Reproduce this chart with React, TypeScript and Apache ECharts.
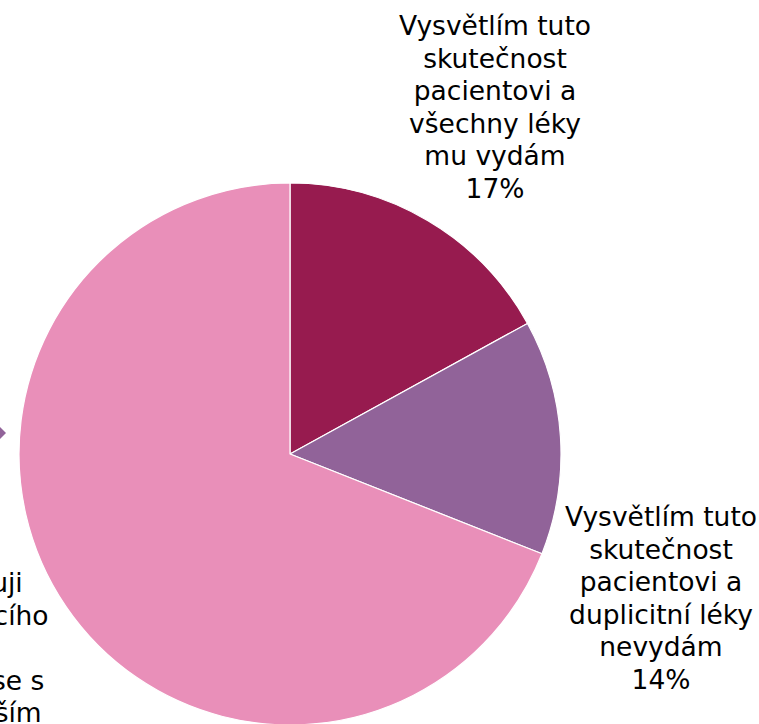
import React, { useEffect, useRef } from "react";
import * as echarts from "echarts";

const categoryLines: string[][] = [
  ["Vysvětlím tuto", "skutečnost", "pacientovi a", "všechny léky", "mu vydám"],
  ["Vysvětlím tuto", "skutečnost", "pacientovi a", "duplicitní léky", "nevydám"],
  ["Zkontaktuji", "předepisujícího", "lékaře a", "domluvím se s", "ním na dalším", "postupu"],
];
const shareValues: number[] = [17, 14, 69];
const sliceColors: string[] = ["#971B4F", "#916399", "#E98FB9"];
const labelCenters: [number, number][] = [
  [495, 107],
  [661, 598],
  [-52, 680],
];

export default function App() {
  const ref = useRef<HTMLDivElement>(null);
  useEffect(() => {
    if (!ref.current) return;
    const chart = echarts.init(ref.current, null, { renderer: "svg" });
    const data = shareValues.map((v, i) => ({
      value: v,
      name: categoryLines[i].join(" "),
      itemStyle: { color: sliceColors[i] },
    }));
    chart.setOption({
      animation: false,
      backgroundColor: "#ffffff",
      series: [
        {
          type: "pie",
          center: [290, 454],
          radius: 271,
          startAngle: 90,
          clockwise: true,
          percentPrecision: 0,
          avoidLabelOverlap: false,
          data,
          itemStyle: { borderColor: "#ffffff", borderWidth: 1.2 },
          emphasis: { disabled: true },
          labelLine: { show: false },
          label: {
            show: true,
            position: "outside",
            overflow: "none",
            color: "#000000",
            fontFamily: "DejaVu Sans",
            fontSize: 26.5,
            lineHeight: 32.5,
            align: "center",
            formatter: (p: any) =>
              categoryLines[p.dataIndex].join("\n") + "\n" + p.percent + "%",
          },
          labelLayout: (p: any) => ({
            x: labelCenters[p.dataIndex][0],
            y: labelCenters[p.dataIndex][1],
            align: "center",
            verticalAlign: "middle",
            hideOverlap: false,
          }),
        },
      ],
      graphic: [
        {
          type: "polygon",
          shape: { points: [[0, 427], [6, 433], [0, 439]] },
          style: { fill: "#916399" },
        },
      ],
    });
    return () => chart.dispose();
  }, []);
  return (
    <div
      ref={ref}
      style={{ position: "fixed", left: 0, top: 0, width: 759, height: 724 }}
    />
  );
}
